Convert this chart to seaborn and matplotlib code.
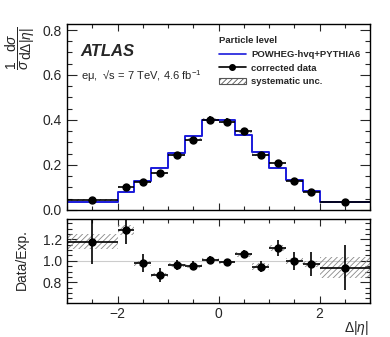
import numpy as np
import matplotlib
matplotlib.use('Agg')
from matplotlib import pyplot as plt
from matplotlib.ticker import MultipleLocator
from matplotlib.patches import Patch
from matplotlib.lines import Line2D
import seaborn as sns

# bins in delta|eta|
edges = [-3, -2, -5/3, -4/3, -1, -2/3, -1/3, 0, 1/3, 2/3, 1, 4/3, 5/3, 2, 3]
centers = [-2.5, -1.833, -1.5, -1.167, -0.833, -0.5, -0.167, 0.167, 0.5, 0.833, 1.167, 1.5, 1.833, 2.5]

# POWHEG-hvq+PYTHIA6 prediction
mc = [0.037, 0.081, 0.128, 0.188, 0.255, 0.328, 0.400, 0.399, 0.331, 0.258, 0.188, 0.131, 0.084, 0.037]
# corrected data
data = [0.044, 0.103, 0.125, 0.165, 0.246, 0.313, 0.402, 0.393, 0.349, 0.246, 0.209, 0.130, 0.081, 0.034]
data_stat = [0.009, 0.012, 0.011, 0.011, 0.012, 0.013, 0.014, 0.014, 0.014, 0.012, 0.014, 0.011, 0.010, 0.008]
data_syst = [0.003, 0.004, 0.004, 0.003, 0.005, 0.006, 0.006, 0.006, 0.008, 0.006, 0.006, 0.004, 0.003, 0.004]

# ratio panel
ratio = [1.176, 1.29, 0.978, 0.868, 0.962, 0.954, 1.009, 0.985, 1.062, 0.946, 1.12, 1.0, 0.972, 0.937]
ratio_stat = [0.21, 0.135, 0.085, 0.063, 0.045, 0.04, 0.035, 0.035, 0.04, 0.05, 0.075, 0.087, 0.115, 0.21]
ratio_syst = [0.07, 0.045, 0.025, 0.015, 0.02, 0.02, 0.015, 0.015, 0.025, 0.03, 0.03, 0.028, 0.03, 0.097]

widths = np.diff(edges)
xerr = widths / 2

sns.set_style('ticks')
plt.rcParams['font.family'] = ['Liberation Sans', 'DejaVu Sans']
plt.rcParams['mathtext.fontset'] = 'custom'
plt.rcParams['mathtext.rm'] = 'Liberation Sans'
plt.rcParams['mathtext.it'] = 'Liberation Sans:italic'
plt.rcParams['hatch.linewidth'] = 0.6

fig = plt.figure(figsize=(3.9, 3.37), dpi=100)
ax = fig.add_axes([0.172, 0.377, 0.777, 0.552])
rx = fig.add_axes([0.172, 0.102, 0.777, 0.248], sharex=ax)

# main panel
sns.histplot(x=centers, weights=mc, bins=edges, element='step', fill=False,
             color='#1a1adb', linewidth=1.4, ax=ax)
ax.bar(centers, height=2*np.array(data_syst), bottom=np.array(data)-np.array(data_syst),
       width=widths, fill=False, hatch='//////', edgecolor='#888888', linewidth=0)
ax.errorbar(centers, data, yerr=data_stat, xerr=xerr, fmt='o', color='black',
            markersize=5, elinewidth=1.2, capsize=0)

ax.set_xlim(-3, 3)
ax.set_ylim(0, 0.827)
ax.set_ylabel(r'$\dfrac{1}{\sigma}\dfrac{\mathrm{d}\sigma}{\mathrm{d}\Delta|\eta|}$', fontsize=10)
ax.yaxis.set_label_coords(-0.1, 0.87)
ax.set_xlabel('')
ax.yaxis.set_major_locator(MultipleLocator(0.2))
ax.yaxis.set_minor_locator(MultipleLocator(0.05))
ax.yaxis.set_major_formatter(matplotlib.ticker.FormatStrFormatter('%.1f'))
ax.xaxis.set_major_locator(MultipleLocator(2))
ax.xaxis.set_minor_locator(MultipleLocator(0.5))
ax.tick_params(axis='x', labelbottom=False)

ax.text(0.045, 0.85, 'ATLAS', transform=ax.transAxes, fontsize=12,
        fontweight='bold', fontstyle='italic', va='center')
ax.text(0.045, 0.72, 'e\u03bc,  \u221as = 7 TeV, 4.6 fb$^{-1}$', transform=ax.transAxes,
        fontsize=8, va='center')

handles = [Line2D([], [], color='#1a1adb', lw=1.2),
           Line2D([], [], color='black', marker='o', markersize=4, lw=1.2),
           Patch(facecolor='white', edgecolor='#555555', hatch='//////', lw=0.8)]
labels = ['POWHEG-hvq+PYTHIA6', 'corrected data', 'systematic unc.']
leg = ax.legend(handles, labels, title='Particle level', loc='upper left',
                bbox_to_anchor=(0.48, 0.97), frameon=False,
                prop={'size': 6.8, 'weight': 'bold'}, title_fontproperties={'size': 6.8, 'weight': 'bold'},
                handlelength=2.8, labelspacing=0.5, handletextpad=0.6, borderpad=0.2)
leg._legend_box.align = 'left'

# ratio panel
rx.axhline(1.0, color='#cccccc', lw=0.8, zorder=0)
rx.bar(centers, height=2*np.array(ratio_syst), bottom=np.array(ratio)-np.array(ratio_syst),
       width=widths, fill=False, hatch='//////', edgecolor='#888888', linewidth=0)
rx.errorbar(centers, ratio, yerr=ratio_stat, xerr=xerr, fmt='o', color='black',
            markersize=5, elinewidth=1.2, capsize=0)
rx.set_ylim(0.61, 1.39)
rx.set_xlim(-3, 3)
rx.yaxis.set_major_locator(MultipleLocator(0.2))
rx.yaxis.set_minor_locator(MultipleLocator(0.05))
rx.yaxis.set_major_formatter(matplotlib.ticker.FormatStrFormatter('%.1f'))
rx.set_ylabel('Data/Exp.', fontsize=10)
rx.yaxis.set_label_coords(-0.125, 0.51)
rx.set_xlabel(r'$\Delta|\eta|$', fontsize=10)
rx.xaxis.set_label_coords(0.955, -0.2)

for a in (ax, rx):
    a.tick_params(which='both', direction='in', top=True, right=True, labelsize=10, width=0.8)
    a.tick_params(axis='y', which='major', length=7)
    a.tick_params(axis='y', which='minor', length=3.5)
    a.tick_params(axis='x', which='major', length=5)
    a.tick_params(axis='x', which='minor', length=3)
    for s in a.spines.values():
        s.set_linewidth(1.0)
        s.set_color('black')

fig.savefig('out.png', dpi=100)
